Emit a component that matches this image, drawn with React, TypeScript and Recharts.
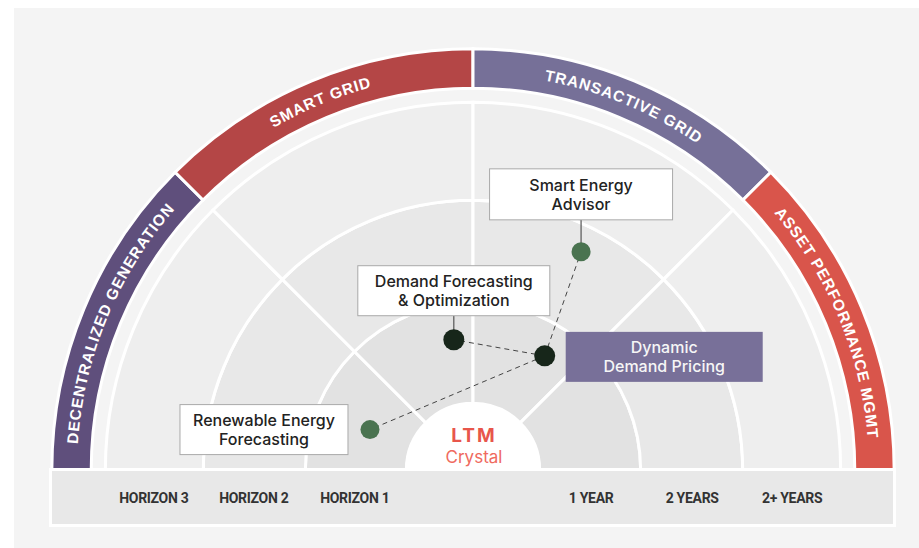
import React from 'react';
import { PieChart, Pie, Cell, ScatterChart, Scatter, XAxis, YAxis, ReferenceLine } from 'recharts';

const W = 919;
const H = 548;
// one unit = one horizon ring, in px
const UNIT = 101;
const MARGIN = { top: 66, right: 42, bottom: 78, left: 69 };

// outer band categories (equal share of the half circle)
const segments = ['DECENTRALIZED GENERATION', 'SMART GRID', 'TRANSACTIVE GRID', 'ASSET PERFORMANCE MGMT'];
const segmentShare = [1, 1, 1, 1];
const segmentColors = ['#5f4f7c', '#b44646', '#767098', '#d9554b'];

// axis labels under the half circle
const horizonLabels = ['HORIZON 3', 'HORIZON 2', 'HORIZON 1'];
const horizonTicks = [-3.16, -2.17, -1.17];
const yearLabels = ['1 YEAR', '2 YEARS', '2+ YEARS'];
const yearTicks = [1.17, 2.17, 3.16];

// initiatives (x: left/right of the centre, y: distance up, in ring units)
const initiatives = ['Smart Energy Advisor', 'Demand Forecasting & Optimization', 'Dynamic Demand Pricing', 'Renewable Energy Forecasting'];
const initiativeX = [1.07, -0.19, 0.71, -1.02];
const initiativeY = [2.16, 1.29, 1.13, 0.4];
const initiativeStage = ['planned', 'live', 'live', 'planned'];
const links = [
  ['Dynamic Demand Pricing', 'Demand Forecasting & Optimization'],
  ['Dynamic Demand Pricing', 'Smart Energy Advisor'],
  ['Dynamic Demand Pricing', 'Renewable Energy Forecasting'],
];

// ring boundaries (units)
const CORE = 0.66;
const RINGS = [
  { inner: CORE, outer: 1.66, fill: '#e2e2e2' },
  { inner: 1.66, outer: 2.67, fill: '#e8e8e8' },
  { inner: 2.67, outer: 3.64, fill: '#eeeeee' },
];
const BAND_IN = 3.78;
const BAND_OUT = 4.17;

const segData = segments.map((name, i) => ({ name, value: segmentShare[i] }));
const points = initiatives.map((name, i) => ({ name, x: initiativeX[i], y: initiativeY[i], stage: initiativeStage[i] }));
const byName = Object.fromEntries(points.map((p) => [p.name, p]));
const tickText = new Map<number, string>();
horizonTicks.forEach((t, i) => tickText.set(t, horizonLabels[i]));
yearTicks.forEach((t, i) => tickText.set(t, yearLabels[i]));

// callout boxes, offsets relative to the dot (px)
const callout: Record<string, any> = {
  'Smart Energy Advisor': { dx: 'center', dy: -83, w: 183, h: 51, lines: ['Smart Energy', 'Advisor'], stem: true },
  'Demand Forecasting & Optimization': { dx: 'center', dy: -74, w: 192, h: 50, lines: ['Demand Forecasting', '& Optimization'], stem: true },
  'Dynamic Demand Pricing': { dx: 21, dy: -24, w: 197, h: 50, lines: ['Dynamic', 'Demand Pricing'], filled: true },
  'Renewable Energy Forecasting': { dx: -190, dy: -25, w: 168, h: 50, lines: ['Renewable Energy', 'Forecasting'] },
};

const CARD_FONT = "Inter, 'Noto Sans', sans-serif";

const renderBandLabel = (p: any) => {
  const { cx, cy, startAngle, endAngle, index } = p;
  const r = ((BAND_IN + BAND_OUT) / 2) * UNIT - 5.5;
  const rad = Math.PI / 180;
  const x1 = cx + r * Math.cos(startAngle * rad);
  const y1 = cy - r * Math.sin(startAngle * rad);
  const x2 = cx + r * Math.cos(endAngle * rad);
  const y2 = cy - r * Math.sin(endAngle * rad);
  const id = `band-arc-${index}`;
  return (
    <g key={id}>
      <path id={id} d={`M${x1},${y1} A${r},${r} 0 0 1 ${x2},${y2}`} fill="none" stroke="none" />
      <text fill="#ffffff" fontSize={15.5} fontWeight={700} letterSpacing={0.9} fontFamily="'Liberation Sans', Arial, sans-serif">
        <textPath href={`#${id}`} startOffset="50%" textAnchor="middle">
          {segments[index]}
        </textPath>
      </text>
    </g>
  );
};

const renderCore = (p: any) => {
  const { cx, cy } = p;
  return (
    <g key="core">
      <text x={cx + 1} y={cy - 28} textAnchor="middle" fill="#e8564b" fontSize={19} fontWeight={700} letterSpacing={2} fontFamily={CARD_FONT}>
        LTM
      </text>
      <text x={cx + 1} y={cy - 7} textAnchor="middle" fill="#ef6a5e" fontSize={17} fontWeight={400} fontFamily={CARD_FONT}>
        Crystal
      </text>
    </g>
  );
};

const renderInitiative = (p: any) => {
  const { cx, cy, payload } = p;
  const c = callout[payload.name];
  const live = payload.stage === 'live';
  const bx = c.dx === 'center' ? cx - c.w / 2 : cx + c.dx;
  const by = cy + c.dy;
  const midY = by + c.h / 2;
  return (
    <g>
      {c.stem && <line x1={cx} y1={by + c.h} x2={cx} y2={cy} stroke="#555" strokeWidth={1.2} />}
      <rect
        x={bx}
        y={by}
        width={c.w}
        height={c.h}
        fill={c.filled ? '#787099' : '#ffffff'}
        stroke={c.filled ? 'none' : '#a9a9a9'}
        strokeWidth={1}
      />
      {c.lines.map((t: string, i: number) => (
        <text
          key={t}
          x={bx + c.w / 2}
          y={midY + (i === 0 ? -9.5 : 9.5)}
          textAnchor="middle"
          dominantBaseline="central"
          fill={c.filled ? '#f6f6f6' : '#222222'}
          fontSize={16}
          fontWeight={500}
          fontFamily={CARD_FONT}
        >
          {t}
        </text>
      ))}
      <circle cx={cx} cy={cy} r={live ? 10.5 : 9.5} fill={live ? '#17261a' : '#4a7350'} />
    </g>
  );
};

const layer: React.CSSProperties = { position: 'absolute', left: 0, top: 0 };

export default function App() {
  return (
    <div style={{ position: 'absolute', left: 0, top: 0, width: W, height: H, background: '#ffffff', overflow: 'hidden' }}>
      <div style={{ position: 'absolute', left: 14, top: 8, right: 0, bottom: 0, background: '#f4f4f4' }} />
      <div style={layer}>
        <PieChart width={W} height={H} margin={MARGIN}>
          <Pie
            data={segData}
            dataKey="value"
            cx="50%"
            cy="100%"
            startAngle={180}
            endAngle={0}
            innerRadius={BAND_IN * UNIT}
            outerRadius={BAND_OUT * UNIT}
            stroke="#ffffff"
            strokeWidth={3}
            label={renderBandLabel}
            labelLine={false}
            isAnimationActive={false}
          >
            {segData.map((d, i) => (
              <Cell key={d.name} fill={segmentColors[i]} />
            ))}
          </Pie>
          {RINGS.map((ring, k) => (
            <Pie
              key={k}
              data={segData}
              dataKey="value"
              cx="50%"
              cy="100%"
              startAngle={180}
              endAngle={0}
              innerRadius={ring.inner * UNIT}
              outerRadius={ring.outer * UNIT}
              fill={ring.fill}
              stroke="#ffffff"
              strokeWidth={3}
              isAnimationActive={false}
            />
          ))}
          <Pie
            data={[{ name: 'LTM Crystal', value: 1 }]}
            dataKey="value"
            cx="50%"
            cy="100%"
            startAngle={180}
            endAngle={0}
            innerRadius={0}
            outerRadius={CORE * UNIT}
            fill="#ffffff"
            stroke="#ffffff"
            strokeWidth={2}
            label={renderCore}
            labelLine={false}
            isAnimationActive={false}
          />
        </PieChart>
      </div>
      <div
        style={{
          position: 'absolute',
          left: 49,
          top: 468,
          width: 847,
          height: 59,
          background: '#e8e8e8',
          border: '3px solid #ffffff',
          boxSizing: 'border-box',
        }}
      />
      <div style={layer}>
        <ScatterChart width={W} height={H} margin={{ ...MARGIN, bottom: MARGIN.bottom - 30 }}>
          <XAxis
            type="number"
            dataKey="x"
            domain={[-4, 4]}
            allowDataOverflow
            ticks={[...horizonTicks, ...yearTicks]}
            interval={0}
            tickFormatter={(v: number) => tickText.get(v) ?? ''}
            axisLine={false}
            tickLine={false}
            tickMargin={17}
            height={30}
            tick={{ fill: '#333333', fontSize: 14, fontWeight: 700, fontFamily: 'Roboto, sans-serif', letterSpacing: -0.3 }}
          />
          <YAxis type="number" dataKey="y" domain={[0, 4]} allowDataOverflow hide />
          {links.map(([a, b]) => (
            <ReferenceLine
              key={a + b}
              segment={[
                { x: byName[a].x, y: byName[a].y },
                { x: byName[b].x, y: byName[b].y },
              ]}
              stroke="#444444"
              strokeWidth={1}
              strokeDasharray="5 4"
              ifOverflow="visible"
            />
          ))}
          <Scatter data={points} shape={renderInitiative} isAnimationActive={false} />
        </ScatterChart>
      </div>
    </div>
  );
}
